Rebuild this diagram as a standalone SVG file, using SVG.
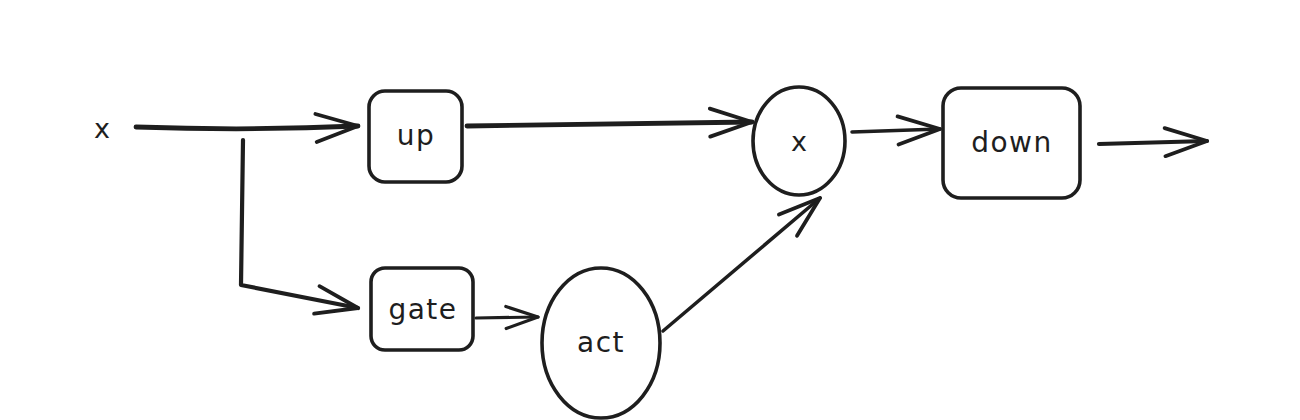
<svg xmlns="http://www.w3.org/2000/svg" width="1300" height="420" viewBox="0 0 1300 420">
<style>
.shape{fill:none;stroke:#1e1e1e;stroke-width:3.6;stroke-linejoin:round}
.lbl{font-family:"DejaVu Sans","Liberation Sans",sans-serif;font-size:28px;fill:#1e1e1e;text-anchor:middle;dominant-baseline:central;letter-spacing:1.5px}
.xs{font-size:27px;letter-spacing:0}
.conn{fill:none;stroke:#1e1e1e;stroke-linecap:round;stroke-linejoin:round}
</style>
<defs>
<marker id="big" markerUnits="userSpaceOnUse" viewBox="-46 -20 50 40" refX="0" refY="0" markerWidth="50" markerHeight="40" orient="auto" overflow="visible">
<path d="M-42,-14 L0,0 L-42,14" fill="none" stroke="#1e1e1e" stroke-width="3.8" stroke-linecap="round" stroke-linejoin="round"/>
</marker>
<marker id="small" markerUnits="userSpaceOnUse" viewBox="-36 -16 40 32" refX="0" refY="0" markerWidth="40" markerHeight="32" orient="auto" overflow="visible">
<path d="M-32,-11 L0,0 L-32,11" fill="none" stroke="#1e1e1e" stroke-width="3.2" stroke-linecap="round" stroke-linejoin="round"/>
</marker>
</defs>
<rect width="1300" height="420" fill="#ffffff"/>
<g id="input"><text class="lbl xs" x="102" y="128">x</text></g>
<g id="up"><rect class="shape" x="369" y="91" width="93" height="91" rx="16"/><text class="lbl" x="416" y="135">up</text></g>
<g id="gate"><rect class="shape" x="371" y="268" width="102" height="82" rx="14"/><text class="lbl" x="423" y="309">gate</text></g>
<g id="act"><ellipse class="shape" cx="601" cy="343" rx="59" ry="75"/><text class="lbl" x="601" y="342">act</text></g>
<g id="mul"><ellipse class="shape" cx="799" cy="141" rx="46" ry="54"/><text class="lbl xs" x="799" y="141">x</text></g>
<g id="down"><rect class="shape" x="943" y="88" width="137" height="110" rx="18"/><text class="lbl" x="1012" y="142">down</text></g>
<g id="connectors">
<path class="conn" d="M136,127 Q250,131 358,126" stroke-width="4.8" marker-end="url(#big)"/>
<path class="conn" d="M243,140 L241,285 L358,308" stroke-width="4.2" marker-end="url(#big)"/>
<path class="conn" d="M467,126 L752,122" stroke-width="4.8" marker-end="url(#big)"/>
<path class="conn" d="M476,318 L538,317" stroke-width="3.2" marker-end="url(#small)"/>
<path class="conn" d="M663,331 L820,198" stroke-width="3.5" marker-end="url(#big)"/>
<path class="conn" d="M852,132 L940,129" stroke-width="3.5" marker-end="url(#big)"/>
<path class="conn" d="M1099,144 L1207,141" stroke-width="4.2" marker-end="url(#big)"/>
</g>
</svg>
